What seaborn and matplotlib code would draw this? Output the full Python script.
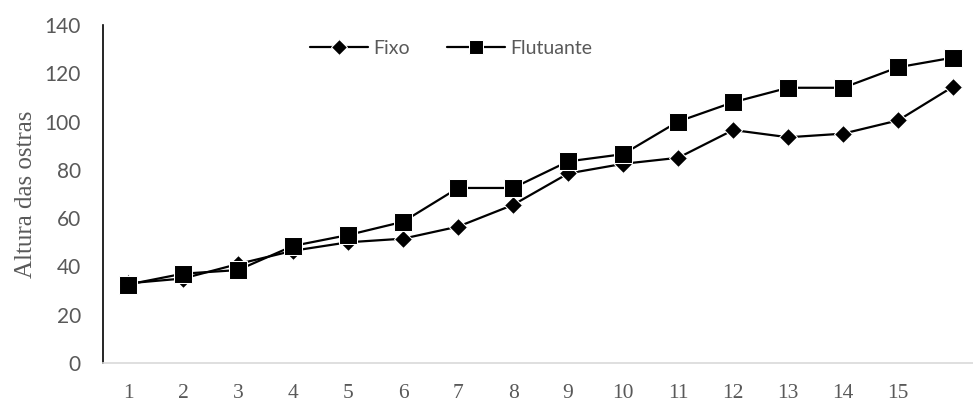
import pandas as pd
import matplotlib
matplotlib.use("Agg")
import matplotlib.pyplot as plt
import seaborn as sns

# dados
semanas = list(range(1, 17))
tick_labels = [str(i) for i in range(1, 16)]
fixo = [33, 35, 41, 46.5, 50, 51.5, 56.5, 65.5, 78.5, 82.5, 85, 96.5, 93.5, 95, 100.5, 114.5]
flutuante = [32.5, 37, 38.5, 48.5, 53, 58.5, 72.5, 72.5, 83.5, 86.5, 100, 108, 114, 114, 122.5, 126.5]

df = pd.DataFrame({
    "Semana": semanas * 2,
    "Altura": fixo + flutuante,
    "Tratamento": ["Fixo"] * len(fixo) + ["Flutuante"] * len(flutuante),
})

sns.set_theme(style="white")
cinza = "#595959"

fig = plt.figure(figsize=(9.73, 4.03), dpi=100)
ax = fig.add_axes([103 / 973, 40 / 403, 870 / 973, 338 / 403])

sns.lineplot(data=df[df.Tratamento == "Fixo"], x="Semana", y="Altura", color="black",
             marker="D", markersize=9, linewidth=1.6, label="Fixo", ax=ax)
sns.lineplot(data=df[df.Tratamento == "Flutuante"], x="Semana", y="Altura", color="black",
             marker="s", markersize=12.5, linewidth=1.6, label="Flutuante", ax=ax)

ax.set_xlim(0.545, 16.36)
ax.set_ylim(0, 140)
ax.set_yticks(range(0, 141, 20))
ax.set_xticks(semanas[:15])
ax.set_xticklabels(tick_labels, family="Liberation Serif", fontsize=15.5, color=cinza)
for lab in ax.get_yticklabels():
    lab.set_family("Lato")
    lab.set_fontsize(15)
    lab.set_color(cinza)
ax.tick_params(axis="x", length=0, pad=15)
ax.tick_params(axis="y", length=0, pad=16)

ax.set_xlabel("")
ax.set_ylabel("Altura das ostras", family="Liberation Serif", fontsize=18, color=cinza, labelpad=5)

for s in ["top", "right"]:
    ax.spines[s].set_visible(False)
ax.spines["left"].set_color("black")
ax.spines["left"].set_linewidth(1.2)
ax.spines["bottom"].set_color("#d9d9d9")
ax.spines["bottom"].set_linewidth(1.2)

leg = ax.legend(loc="center", bbox_to_anchor=(0.40, 0.93), ncol=2, frameon=False,
                handlelength=3.0, columnspacing=1.9, handletextpad=0.25, markerscale=0.85,
                prop={"family": "Lato", "size": 14})
for t in leg.get_texts():
    t.set_color(cinza)

fig.savefig("out.png", dpi=100)
